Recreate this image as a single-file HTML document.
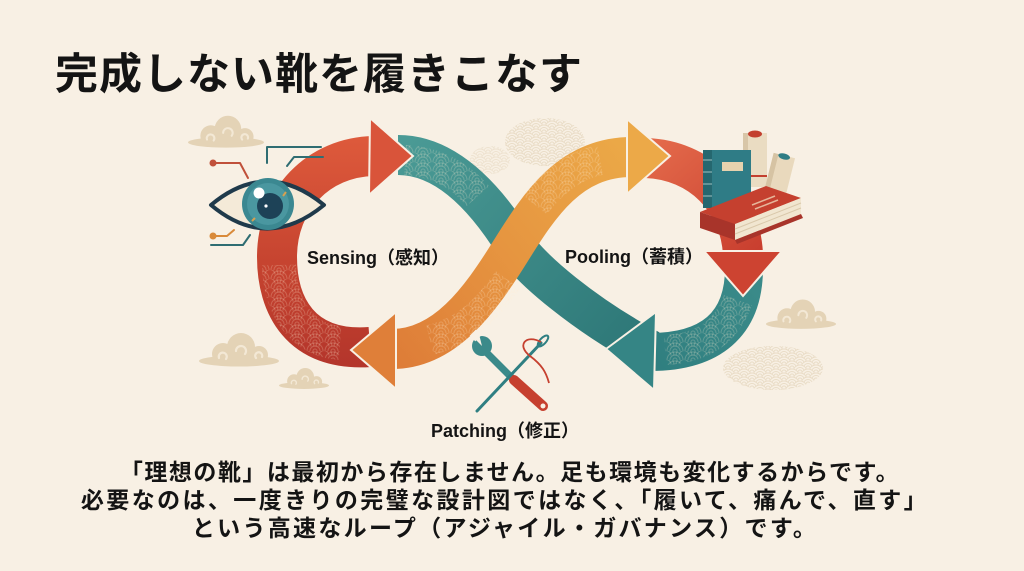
<!DOCTYPE html>
<html><head><meta charset="utf-8">
<style>
html,body{margin:0;padding:0;background:#f8f0e4;}
svg{display:block}
text{font-family:"Liberation Sans","Noto Sans CJK JP",sans-serif;font-weight:bold;fill:#141414;}
</style></head>
<body>
<svg width="1024" height="571" viewBox="0 0 1024 571" xmlns="http://www.w3.org/2000/svg">
<defs>
  <linearGradient id="gRedL" gradientUnits="userSpaceOnUse" x1="0" y1="130" x2="0" y2="370">
    <stop offset="0" stop-color="#df5b3c"/><stop offset="0.6" stop-color="#c4422f"/><stop offset="1" stop-color="#b3352b"/>
  </linearGradient>
  <linearGradient id="gOr" gradientUnits="userSpaceOnUse" x1="390" y1="350" x2="630" y2="157">
    <stop offset="0" stop-color="#de7d38"/><stop offset="0.5" stop-color="#e69540"/><stop offset="1" stop-color="#eba847"/>
  </linearGradient>
  <linearGradient id="gTeal" gradientUnits="userSpaceOnUse" x1="400" y1="150" x2="640" y2="350">
    <stop offset="0" stop-color="#4a9a95"/><stop offset="1" stop-color="#2d7777"/>
  </linearGradient>
  <linearGradient id="gRedR" gradientUnits="userSpaceOnUse" x1="650" y1="150" x2="745" y2="260">
    <stop offset="0" stop-color="#e3694a"/><stop offset="1" stop-color="#c93f2f"/>
  </linearGradient>
  <linearGradient id="gTealE" gradientUnits="userSpaceOnUse" x1="750" y1="280" x2="640" y2="360">
    <stop offset="0" stop-color="#3a8a89"/><stop offset="1" stop-color="#2f7e7f"/>
  </linearGradient>

  <pattern id="sgB" width="16" height="8" patternUnits="userSpaceOnUse">
    <g stroke="#e9dcc6" stroke-width="0.9" fill="#f8f0e4">
      <path d="M-7 4 A7 7 0 0 1 7 4 Z" stroke="none"/><path d="M-7 4 A7 7 0 0 1 7 4 M-4.5 4 A4.5 4.5 0 0 1 4.5 4 M-2 4 A2 2 0 0 1 2 4" fill="none"/>
      <path d="M9 4 A7 7 0 0 1 23 4 Z" stroke="none"/><path d="M9 4 A7 7 0 0 1 23 4 M11.5 4 A4.5 4.5 0 0 1 20.5 4 M14 4 A2 2 0 0 1 18 4" fill="none"/>
      <path d="M1 8 A7 7 0 0 1 15 8 Z" stroke="none"/><path d="M1 8 A7 7 0 0 1 15 8 M3.5 8 A4.5 4.5 0 0 1 12.5 8 M6 8 A2 2 0 0 1 10 8" fill="none"/>
      <path d="M-7 12 A7 7 0 0 1 7 12 Z" stroke="none"/><path d="M-7 12 A7 7 0 0 1 7 12 M-4.5 12 A4.5 4.5 0 0 1 4.5 12" fill="none"/>
      <path d="M9 12 A7 7 0 0 1 23 12 Z" stroke="none"/><path d="M9 12 A7 7 0 0 1 23 12 M11.5 12 A4.5 4.5 0 0 1 20.5 12" fill="none"/>
    </g>
  </pattern>
  <pattern id="sgW" width="18" height="9" patternUnits="userSpaceOnUse">
    <g stroke="rgba(255,236,210,0.22)" stroke-width="1" fill="none">
      <path d="M-8 4.5 A8 8 0 0 1 8 4.5 M-5 4.5 A5 5 0 0 1 5 4.5"/>
      <path d="M10 4.5 A8 8 0 0 1 26 4.5 M13 4.5 A5 5 0 0 1 23 4.5"/>
      <path d="M1 9 A8 8 0 0 1 17 9 M4 9 A5 5 0 0 1 14 9 M7 9 A2 2 0 0 1 11 9"/>
    </g>
  </pattern>

  <symbol id="cloud" viewBox="0 0 80 36">
    <g fill="#e4d3b6">
      <ellipse cx="40" cy="30" rx="40" ry="5.5"/>
      <circle cx="24" cy="23" r="11"/>
      <circle cx="42" cy="16" r="14"/>
      <circle cx="60" cy="24" r="9"/>
    </g>
    <g fill="none" stroke="#f3e8d5" stroke-width="2.2" stroke-linecap="round">
      <path d="M37 20 a5 5 0 1 1 9 3"/>
      <path d="M20 27 a4 4 0 1 1 7 1"/>
      <path d="M57 27 a3.5 3.5 0 1 1 6 -1"/>
    </g>
  </symbol>
</defs>

<rect width="1024" height="571" fill="#f8f0e4"/>

<!-- Title -->
<text x="55" y="89" font-size="43" letter-spacing="1">完成しない靴を履きこなす</text>

<!-- clouds -->
<use href="#cloud" x="188" y="113" width="76" height="36"/>
<use href="#cloud" x="199" y="330" width="80" height="38"/>
<use href="#cloud" x="279" y="365" width="50" height="26"/>
<use href="#cloud" x="766" y="296" width="70" height="35"/>

<!-- background waves -->
<ellipse cx="545" cy="142" rx="40" ry="24" fill="url(#sgB)"/>
<ellipse cx="490" cy="160" rx="20" ry="14" fill="url(#sgB)" opacity="0.7"/>
<ellipse cx="773" cy="368" rx="50" ry="22" fill="url(#sgB)"/>

<!-- Teal crossing band (under) -->
<path d="M398 155 C450 155 490 205 515 245 C530 269 585 315 650 350" fill="none" stroke="url(#gTeal)" stroke-width="40"/>
<path d="M405 160 C440 162 462 178 478 196" fill="none" stroke="url(#sgW)" stroke-width="30"/>

<!-- Red left arc -->
<path d="M370 347 C300 352 277 305 277 257 C277 200 318 157 374 156" fill="none" stroke="url(#gRedL)" stroke-width="40"/>
<path d="M340 343 C300 340 280 305 279 265" fill="none" stroke="url(#sgW)" stroke-width="34"/>

<!-- Orange crossing band (over) -->
<path d="M392 349 C445 349 480 300 510 252 C540 204 570 157 632 157" fill="none" stroke="url(#gOr)" stroke-width="40"/>
<path d="M430 340 C470 330 490 305 508 280" fill="none" stroke="url(#sgW)" stroke-width="30"/>
<path d="M535 205 C555 180 575 165 600 160" fill="none" stroke="url(#sgW)" stroke-width="30"/>

<!-- Red right arc -->
<path d="M646 158 C700 160 740 200 743 254" fill="none" stroke="url(#gRedR)" stroke-width="40"/>

<!-- Teal right-bottom arc -->
<path d="M744 268 C744 325 710 352 650 352" fill="none" stroke="url(#gTealE)" stroke-width="38"/>
<path d="M738 300 C725 335 700 348 665 350" fill="none" stroke="url(#sgW)" stroke-width="30"/>

<!-- Arrowheads -->
<g stroke="#f8f0e4" stroke-width="2" stroke-linejoin="miter">
  <polygon points="370,118 413,156 369,195" fill="#d9543a"/>
  <polygon points="396,312 351,350 396,389" fill="#df7f39"/>
  <polygon points="627,119 670,156 627,194" fill="#eca948"/>
  <polygon points="704,251 743,296 782,251" fill="#cd4331"/>
  <polygon points="656,312 606,349 654,390" fill="#358585"/>
</g>

<!-- Eye -->
<g fill="none" stroke-width="2" stroke-linecap="round" stroke-linejoin="round">
  <polyline points="267,163 267,147 321,147" stroke="#2f6d72"/>
  <polyline points="287,166 294,157 323,157" stroke="#2f6d72"/>
  <polyline points="213,163 240,163 248,178" stroke="#c0503a"/>
  <polyline points="213,236 227,236 234,230" stroke="#d98a3a"/>
  <polyline points="211,245 243,245 250,235" stroke="#2f6d72"/>
</g>
<circle cx="213" cy="163" r="3.5" fill="#c0503a"/>
<circle cx="213" cy="236" r="3.5" fill="#d98a3a"/>
<path d="M211 205 Q267 158 324 205 Q267 252 211 205 Z" fill="#f4ead8" stroke="#1f3a4b" stroke-width="4" stroke-linejoin="round"/>
<circle cx="268" cy="204" r="26" fill="#3b8891"/>
<circle cx="268" cy="204" r="21" fill="#4a97a0"/>
<circle cx="270" cy="206" r="13" fill="#1d4257"/>
<circle cx="259" cy="193" r="5.5" fill="#ffffff"/>
<circle cx="266" cy="206" r="1.6" fill="#ffffff"/>
<line x1="283" y1="196" x2="286" y2="192" stroke="#d6a050" stroke-width="2"/>
<line x1="255" y1="218" x2="252" y2="221" stroke="#d6a050" stroke-width="2"/>

<!-- Books -->
<g>
  <rect x="743" y="133" width="24" height="54" fill="#eadcc2"/>
  <rect x="743" y="133" width="5" height="54" fill="#d8c6a8"/>
  <ellipse cx="755" cy="134" rx="7" ry="3.5" fill="#c3402f"/>
  <line x1="743" y1="176" x2="767" y2="176" stroke="#c3402f" stroke-width="2"/>
  <g transform="rotate(14 780 173)">
    <rect x="769" y="155" width="22" height="40" fill="#e9d9bd"/>
    <rect x="769" y="155" width="5" height="40" fill="#d6c3a3"/>
    <ellipse cx="780" cy="156" rx="6" ry="3" fill="#2f7d85"/>
  </g>
  <rect x="703" y="150" width="48" height="58" fill="#2f7c86"/>
  <rect x="703" y="150" width="9" height="58" fill="#25676f"/>
  <g stroke="#9fc2c0" stroke-width="1"><line x1="703" y1="160" x2="712" y2="160"/><line x1="703" y1="172" x2="712" y2="172"/><line x1="703" y1="184" x2="712" y2="184"/><line x1="703" y1="196" x2="712" y2="196"/></g>
  <rect x="722" y="162" width="21" height="9" fill="#e6d2ae"/>
  <polygon points="700,212 766,186 801,198 735,224" fill="#c5402f"/>
  <polygon points="700,212 735,224 735,240 700,228" fill="#a8342a"/>
  <polygon points="735,224 801,198 801,214 735,240" fill="#f1e6d0"/>
  <line x1="735" y1="229" x2="801" y2="203" stroke="#d9c8aa" stroke-width="1"/>
  <line x1="735" y1="234" x2="801" y2="208" stroke="#d9c8aa" stroke-width="1"/>
  <polygon points="735,240 801,214 803,218 737,244" fill="#a8342a"/>
  <line x1="752" y1="205" x2="775" y2="196" stroke="#e6b59a" stroke-width="1.5"/>
  <line x1="755" y1="209" x2="778" y2="200" stroke="#e6b59a" stroke-width="1.5"/>
</g>

<!-- Wrench & needle -->
<g>
  <line x1="486" y1="352" x2="516" y2="382" stroke="#3b8a8a" stroke-width="7" stroke-linecap="round"/>
  <circle cx="482" cy="346" r="10" fill="#3b8a8a"/>
  <polygon points="472,336 482,346 478,330" fill="#f8f0e4"/>
  <rect x="471" y="331" width="9" height="8" fill="#f8f0e4" transform="rotate(-45 476 335)"/>
  <line x1="514" y1="380" x2="543" y2="406" stroke="#c6402f" stroke-width="10" stroke-linecap="round"/>
  <circle cx="543" cy="406" r="2.5" fill="#f8f0e4"/>
  <line x1="477" y1="411" x2="541" y2="343" stroke="#2f7f82" stroke-width="3" stroke-linecap="round"/>
  <ellipse cx="543" cy="341" rx="3" ry="7" transform="rotate(43 543 341)" fill="none" stroke="#2f7f82" stroke-width="2"/>
  <path d="M541 342 C526 334 516 345 530 356 C542 365 546 372 549 383" fill="none" stroke="#c6402f" stroke-width="1.8"/>
</g>

<!-- Labels -->
<text x="307" y="264" font-size="18">Sensing（感知）</text>
<text x="565" y="263" font-size="18">Pooling（蓄積）</text>
<text x="431" y="437" font-size="18">Patching（修正）</text>

<!-- Body text -->
<text x="510" y="480" font-size="23" letter-spacing="1.5" text-anchor="middle">「理想の靴」は最初から存在しません。足も環境も変化するからです。</text>
<text x="505" y="508" font-size="23" letter-spacing="2.4" text-anchor="middle">必要なのは、一度きりの完璧な設計図ではなく、「履いて、痛んで、直す」</text>
<text x="505" y="536" font-size="23" letter-spacing="2.3" text-anchor="middle">という高速なループ（アジャイル・ガバナンス）です。</text>
</svg>
</body></html>
